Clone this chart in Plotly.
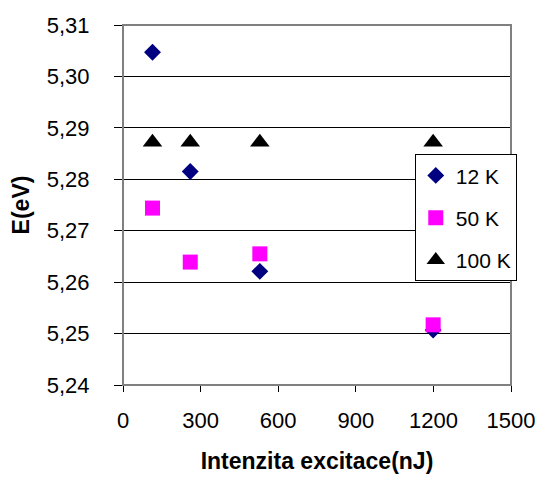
import plotly.graph_objects as go

# Excitation intensity (nJ) and peak energy (eV) per temperature
intensity = [114, 260, 529, 1199]
energy_12k = [5.3047, 5.2815, 5.2621, 5.2507]
energy_50k = [5.2744, 5.2639, 5.2655, 5.2517]
energy_100k = [5.2872, 5.2872, 5.2872, 5.2872]

series_names = ["12 K", "50 K", "100 K"]
x_ticks = [0, 300, 600, 900, 1200, 1500]
y_ticks = [5.24, 5.25, 5.26, 5.27, 5.28, 5.29, 5.30, 5.31]

FONT = "Liberation Sans, Arial, sans-serif"

fig = go.Figure()
fig.add_trace(go.Scatter(
    x=intensity, y=energy_12k, mode="markers", name=series_names[0],
    legendgroup="a",
    marker=dict(symbol="diamond", size=13, color="#000080"),
))
fig.add_trace(go.Scatter(
    x=intensity, y=energy_50k, mode="markers", name=series_names[1],
    legendgroup="b",
    marker=dict(symbol="square", size=15, color="#FF00FF"),
))
fig.add_trace(go.Scatter(
    x=intensity, y=energy_100k, mode="markers", name=series_names[2],
    legendgroup="c",
    marker=dict(symbol="triangle-up", size=17, color="#000000"),
))

# grey frame around the plot area (top and right edges show)
fig.add_shape(type="rect", xref="paper", yref="paper", x0=0, y0=0, x1=1, y1=1,
              line=dict(color="#808080", width=2), layer="above")

fig.update_layout(
    width=547, height=482,
    margin=dict(l=123, r=31, t=25, b=95),
    paper_bgcolor="white", plot_bgcolor="white",
    separators=", ",
    font=dict(family=FONT, size=22, color="black"),
    showlegend=True,
    legend=dict(
        x=0.752, y=0.641, xanchor="left", yanchor="top",
        bgcolor="white", bordercolor="black", borderwidth=1,
        font=dict(size=21), tracegroupgap=12,
    ),
    xaxis=dict(
        range=[0, 1500], tickvals=x_ticks, ticks="outside", ticklen=6,
        tickcolor="black", showgrid=False, zeroline=False,
        showline=True, linecolor="black", linewidth=1,
        ticklabelstandoff=10,
        title=dict(text="<b>Intenzita excitace(nJ)</b>", font=dict(size=23), standoff=20),
    ),
    yaxis=dict(
        range=[5.24, 5.31], tickvals=y_ticks, tickformat=".2f",
        ticks="outside", ticklen=8, tickcolor="black",
        showgrid=True, gridcolor="black", gridwidth=1, zeroline=False,
        showline=True, linecolor="black", linewidth=1,
        ticklabelstandoff=20,
        title=dict(text="<b>E(eV)</b>", font=dict(size=23), standoff=10),
    ),
)

fig.write_html("out.html")
